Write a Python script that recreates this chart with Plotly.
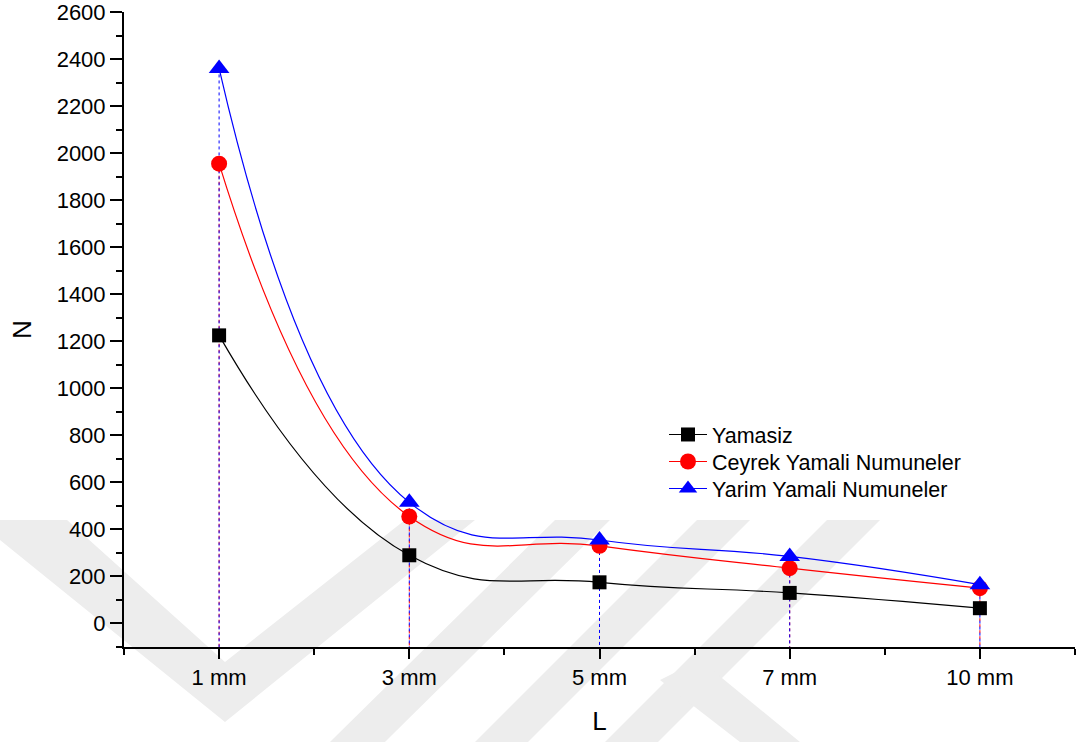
import plotly.graph_objects as go

# Sample widths and measured loads
categories = ["1 mm", "3 mm", "5 mm", "7 mm", "10 mm"]
positions = [1, 2, 3, 4, 5]
yamasiz = [1225, 290, 175, 130, 65]
ceyrek = [1955, 455, 330, 235, 150]
yarim = [2360, 515, 355, 285, 165]

series = [
    ("Yamasiz", yamasiz, "#000000", "square", 14, False),
    ("Ceyrek Yamali Numuneler", ceyrek, "#ff0000", "circle", 16, True),
    ("Yarim Yamali Numuneler", yarim, "#0000ff", "triangle-up", 18, True),
]

Y_MIN, Y_MAX = -100, 2600
X_MIN, X_MAX = 0.5, 5.5

# plot area in page pixels
L, R, T, B = 124, 1075, 12, 647
W_PX, H_PX = 1088, 742


def to_paper(px, py):
    return (px - L) / (R - L), (B - py) / (B - T)


fig = go.Figure()

# vertical drop lines from the points down to the bottom axis
for name, vals, color, sym, size, drop in series:
    if not drop:
        continue
    xs, ys = [], []
    for xp, v in zip(positions, vals):
        xs += [xp, xp, None]
        ys += [v, Y_MIN, None]
    fig.add_trace(go.Scatter(
        x=xs, y=ys, mode="lines", showlegend=False, hoverinfo="skip",
        line=dict(color=color, width=1, dash="dot"),
    ))

# one legend box per series so the rows can be spaced freely
legend_names = ["legend", "legend2", "legend3"]
row_tops = [414, 441, 468]

for (name, vals, color, sym, size, drop), lg in zip(series, legend_names):
    fig.add_trace(go.Scatter(
        x=positions, y=vals, name=name, mode="lines+markers", legend=lg,
        line=dict(color=color, width=1.2, shape="spline", smoothing=1.3),
        marker=dict(symbol=sym, size=size, color=color, line=dict(width=0)),
    ))

# faint background emblem bands (page pixel polygons)
bands = [
    [(0, 520), (67, 520), (225, 662), (405, 520), (475, 520), (225, 722), (0, 540)],
    [(330, 742), (385, 742), (610, 520), (555, 520)],
    [(475, 742), (528, 742), (750, 520), (697, 520)],
    [(605, 742), (658, 742), (880, 520), (827, 520)],
    [(660, 680), (700, 660), (800, 742), (740, 742)],
]

shapes = []
for poly in bands:
    pts = [to_paper(px, py) for px, py in poly]
    path = "M " + " L ".join(f"{x:.4f},{y:.4f}" for x, y in pts) + " Z"
    shapes.append(dict(type="path", path=path, xref="paper", yref="paper",
                       fillcolor="#ededed", line=dict(width=0), layer="below"))

font_family = "Liberation Sans, Arial, sans-serif"

legend_layout = {}
for lg, top in zip(legend_names, row_tops):
    lx, ly = to_paper(664, top)
    legend_layout[lg] = dict(
        x=lx, y=ly, xanchor="left", yanchor="top",
        bgcolor="rgba(0,0,0,0)", font=dict(size=21.5),
        itemwidth=38,
    )

fig.update_layout(
    width=W_PX, height=H_PX,
    margin=dict(l=L, r=W_PX - R, t=T, b=H_PX - B, autoexpand=False),
    paper_bgcolor="white", plot_bgcolor="rgba(0,0,0,0)",
    font=dict(family=font_family, size=22, color="black"),
    shapes=shapes,
    showlegend=True,
    **legend_layout,
    xaxis=dict(
        range=[X_MIN, X_MAX], tickmode="array", tickvals=positions, ticktext=categories,
        showgrid=False, zeroline=False, showline=True, linecolor="black", linewidth=2,
        ticks="outside", ticklen=10, tickwidth=2, tickcolor="black", automargin=False,
        ticklabeloverflow="allow",
        minor=dict(tickmode="array", tickvals=[0.5, 1.5, 2.5, 3.5, 4.5, 5.5],
                   ticks="outside", ticklen=6, tickwidth=2, tickcolor="black"),
        title=dict(text="L", font=dict(size=26), standoff=22),
        tickfont=dict(size=22),
    ),
    yaxis=dict(
        range=[Y_MIN, Y_MAX], tickmode="linear", tick0=0, dtick=200,
        showgrid=False, zeroline=False, showline=True, linecolor="black", linewidth=2,
        ticks="outside", ticklen=12, tickwidth=2, tickcolor="black", automargin=False,
        ticklabeloverflow="allow",
        minor=dict(tickmode="linear", tick0=100, dtick=200,
                   ticks="outside", ticklen=6, tickwidth=2, tickcolor="black"),
        title=dict(text="N", font=dict(size=26), standoff=18),
        tickfont=dict(size=22),
    ),
)

fig.write_html("out.html")
